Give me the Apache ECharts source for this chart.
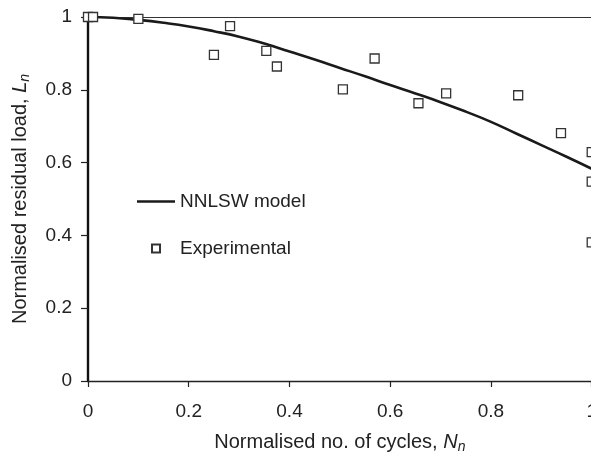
<!DOCTYPE html>
<html>
<head>
<meta charset="utf-8">
<script src="https://cdn.jsdelivr.net/npm/echarts@6/dist/echarts.min.js"></script>
<style>
html,body{margin:0;padding:0;background:#fff;overflow:hidden;width:591px;height:459px;}
#chart{width:600px;height:459px;}
</style>
</head>
<body>
<div id="chart"></div>
<script>
// Model curve (NNLSW model)
const curveX = [0, 0.05, 0.1, 0.15, 0.2, 0.25, 0.3, 0.35, 0.4, 0.45, 0.5, 0.55, 0.6, 0.65, 0.7, 0.75, 0.8, 0.85, 0.9, 0.95, 1.0];
const curveY = [1.0, 0.998, 0.992, 0.984, 0.974, 0.961, 0.946, 0.927, 0.905, 0.883, 0.86, 0.837, 0.813, 0.79, 0.766, 0.74, 0.712, 0.68, 0.648, 0.616, 0.583];
// Experimental points
const expX = [0, 0.01, 0.1, 0.25, 0.282, 0.354, 0.375, 0.506, 0.569, 0.656, 0.711, 0.854, 0.939, 1.0, 1.0, 1.0];
const expY = [1.0, 1.0, 0.995, 0.896, 0.975, 0.907, 0.864, 0.801, 0.886, 0.763, 0.79, 0.785, 0.681, 0.629, 0.548, 0.381];
// Axis ticks
const xTicks = {min: 0, max: 1, interval: 0.2};
const yTicks = {min: 0, max: 1, interval: 0.2};

const FONT = 'Liberation Sans, Arial, sans-serif';
const TXT = '#222';

const chart = echarts.init(document.getElementById('chart'));
chart.setOption({
  animation: false,
  backgroundColor: '#fff',
  textStyle: {fontFamily: FONT},
  grid: {left: 88, right: 7, top: 17, bottom: 75, containLabel: false},
  legend: {
    orient: 'vertical',
    left: 132,
    top: 187,
    itemWidth: 38,
    itemHeight: 8,
    itemGap: 28,
    textStyle: {fontFamily: FONT, fontSize: 19, color: TXT},
    data: [
      {name: 'NNLSW model', icon: 'path://M0,0L38,0L38,2.6L0,2.6Z'},
      {name: 'Experimental', icon: 'path://M0,0L10,0L10,10L0,10Z'}
    ]
  },
  xAxis: [{
    type: 'value',
    min: xTicks.min, max: xTicks.max, interval: xTicks.interval,
    name: 'Normalised no. of cycles, {i|N}{s|n}',
    nameLocation: 'middle',
    nameGap: 49,
    nameTextStyle: {
      fontFamily: FONT, fontSize: 20, color: TXT,
      rich: {
        i: {fontFamily: FONT, fontSize: 20, fontStyle: 'italic', color: TXT},
        s: {fontFamily: FONT, fontSize: 14, fontStyle: 'italic', color: TXT, padding: [10, 0, 0, 0]}
      }
    },
    axisLine: {show: true, lineStyle: {color: '#222', width: 1.4}},
    axisTick: {show: true, length: 6, lineStyle: {color: '#222', width: 1.2}},
    axisLabel: {fontFamily: FONT, fontSize: 19, color: TXT, margin: 21},
    splitLine: {show: false}
  }, {
    type: 'value',
    position: 'top',
    min: xTicks.min, max: xTicks.max, interval: xTicks.interval,
    axisLine: {show: true, onZero: false, lineStyle: {color: '#333', width: 1}},
    axisTick: {show: false},
    axisLabel: {show: false},
    splitLine: {show: false}
  }],
  yAxis: {
    type: 'value',
    min: yTicks.min, max: yTicks.max, interval: yTicks.interval,
    name: 'Normalised residual load, {i|L}{s|n}',
    nameLocation: 'middle',
    nameGap: 56,
    nameTextStyle: {
      fontFamily: FONT, fontSize: 20, color: TXT,
      rich: {
        i: {fontFamily: FONT, fontSize: 20, fontStyle: 'italic', color: TXT},
        s: {fontFamily: FONT, fontSize: 14, fontStyle: 'italic', color: TXT, padding: [10, 0, 0, 0]}
      }
    },
    axisLine: {show: true, onZero: false, lineStyle: {color: '#111', width: 2.4}},
    axisTick: {show: true, length: 7, lineStyle: {color: '#222', width: 1.2}},
    axisLabel: {fontFamily: FONT, fontSize: 19, color: TXT, margin: 16},
    splitLine: {show: false}
  },
  series: [{
    name: 'NNLSW model',
    type: 'line',
    smooth: true,
    symbol: 'none',
    clip: true,
    data: curveX.map((x, i) => [x, curveY[i]]),
    lineStyle: {color: '#1a1a1a', width: 2.6},
    itemStyle: {color: '#1a1a1a'},
    z: 3
  }, {
    name: 'Experimental',
    type: 'scatter',
    symbol: 'rect',
    symbolSize: 9,
    clip: false,
    data: expX.map((x, i) => [x, expY[i]]),
    itemStyle: {color: '#ffffff', borderColor: '#333', borderWidth: 1.3, opacity: 1},
    z: 4
  }]
});
</script>
</body>
</html>
